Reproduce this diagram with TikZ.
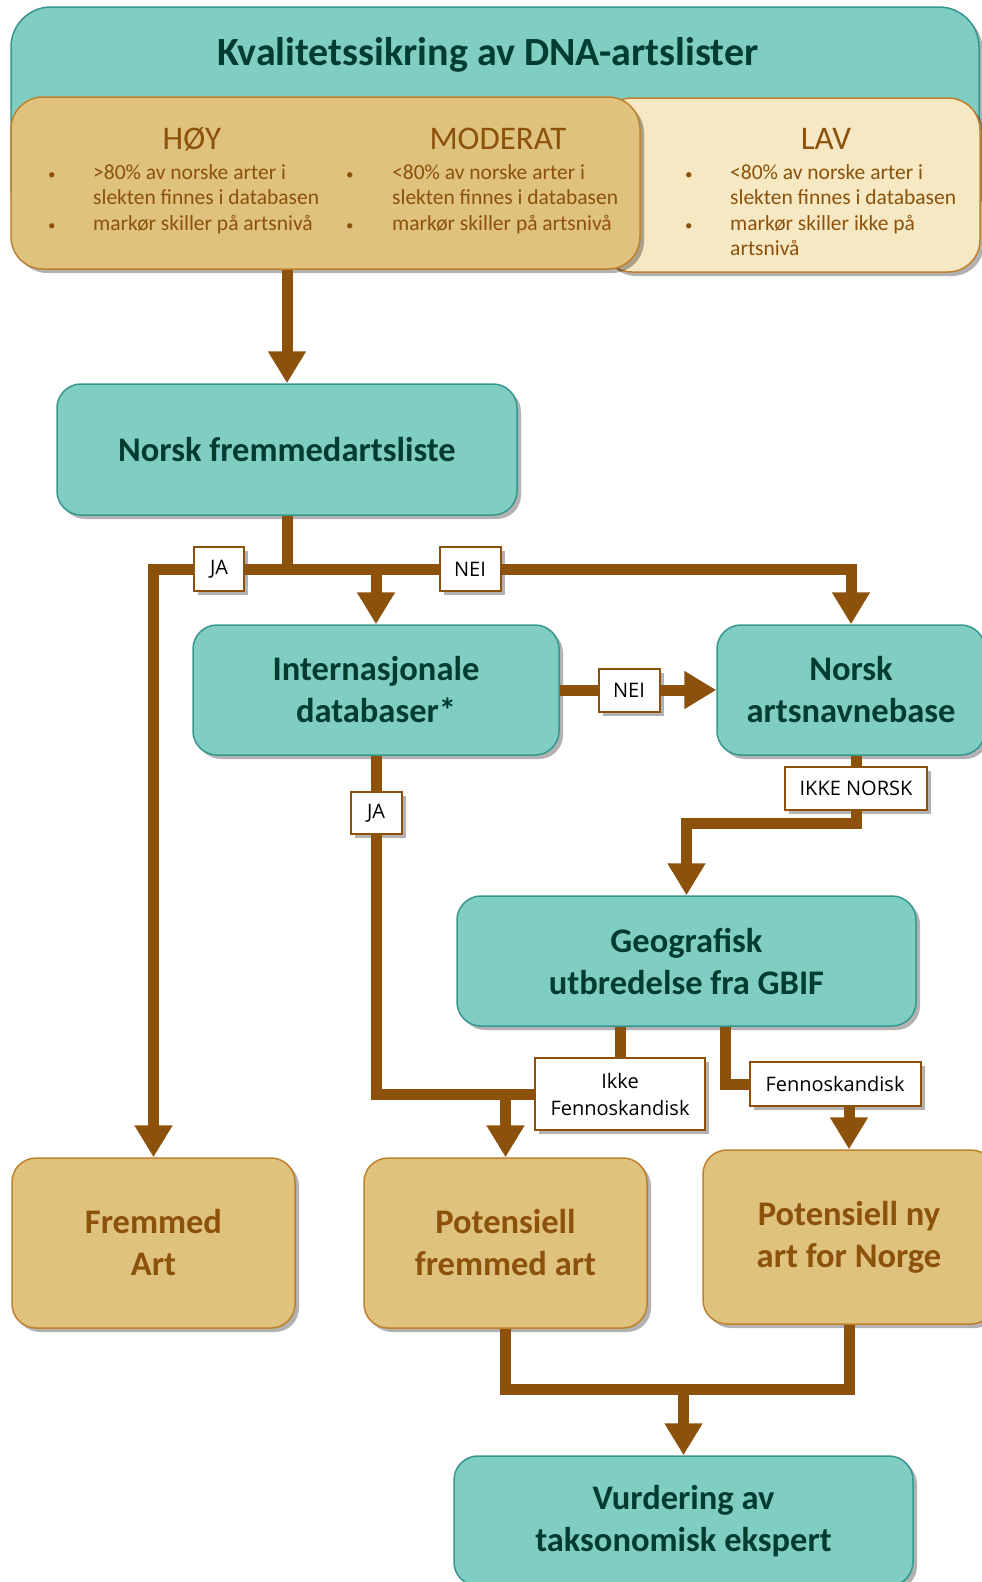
\documentclass[tikz,border=0pt]{standalone}
\usepackage{fontspec}
\setmainfont{Carlito}
\newfontfamily\tagfont{Open Sans}
\usetikzlibrary{arrows.meta, shadows}

\definecolor{tealfill}{HTML}{80CDC1}
\definecolor{tealline}{HTML}{35978F}
\definecolor{tealtext}{HTML}{003C30}
\definecolor{tanfill}{HTML}{DFC27D}
\definecolor{tanline}{HTML}{BF812D}
\definecolor{creamfill}{HTML}{F6E8C3}
\definecolor{flowbrown}{HTML}{8C510A}

\newcommand{\bulletmark}{{\fontsize{15}{15}\selectfont\textbullet}}

\begin{document}
\begin{tikzpicture}[
    x=1pt, y=-1pt,
    softshadow/.style={drop shadow={shadow xshift=4pt, shadow yshift=-4pt, opacity=0.3, fill=black}},
    tealbox/.style={rectangle, draw=tealline, line width=1.5pt, fill=tealfill, rounded corners=24pt, inner sep=0pt, align=center, text=tealtext, font=\fontsize{34.5}{42}\selectfont\bfseries, softshadow},
    tanbox/.style={tealbox, draw=tanline, fill=tanfill, text=flowbrown},
    level/.style={inner sep=0pt, font=\fontsize{33}{38}\selectfont, text=flowbrown},
    bullets/.style={anchor=north west, inner sep=0pt, font=\fontsize{21.5}{25.5}\selectfont, text=flowbrown},
    tag/.style={rectangle, draw=flowbrown, line width=2pt, fill=white, inner sep=0pt, align=center, font=\tagfont\fontsize{20}{27}\selectfont, softshadow},
    pipe/.style={draw=flowbrown, line width=11pt},
    flow/.style={pipe, -{Triangle[width=36pt, length=32pt]}}
]
    \useasboundingbox (0,0) rectangle (982,1582);
    \clip (0,0) rectangle (982,1582);

    % Header
    \node[tealbox, rounded corners=40pt, minimum width=968, minimum height=220] (banner) at (495,117) {};
    \node[inner sep=0pt, text=tealtext, font=\fontsize{40}{46}\selectfont\bfseries] (title) at (488,55) {Kvalitetssikring av DNA-artslister};
    \node[tanbox, draw=tanline, fill=creamfill, rounded corners=32pt, minimum width=380, minimum height=174] (lavbox) at (790,185) {};
    \node[tanbox, rounded corners=32pt, minimum width=629, minimum height=172] (hoybox) at (325.5,183) {};

    \node[level] (hoy) at (192,139) {HØY};
    \node[level] (moderat) at (498,139) {MODERAT};
    \node[level] (lav) at (826,139) {LAV};

    \node[bullets] (hoylist) at (48,161) {\begin{tabular}{@{}p{45pt}@{}l@{}}
        \bulletmark & >80\% av norske arter i\\
                    & slekten finnes i databasen\\
        \bulletmark & markør skiller på artsnivå
    \end{tabular}};
    \node[bullets] (moderatlist) at (346,161) {\begin{tabular}{@{}p{46pt}@{}l@{}}
        \bulletmark & <80\% av norske arter i\\
                    & slekten finnes i databasen\\
        \bulletmark & markør skiller på artsnivå
    \end{tabular}};
    \node[bullets] (lavlist) at (685,161) {\begin{tabular}{@{}p{45pt}@{}l@{}}
        \bulletmark & <80\% av norske arter i\\
                    & slekten finnes i databasen\\
        \bulletmark & markør skiller ikke på\\
                    & artsnivå
    \end{tabular}};

    % Nodes
    \node[tealbox, minimum width=460, minimum height=131] (fremmedliste) at (287,449.5) {Norsk fremmedartsliste};
    \node[tealbox, minimum width=366, minimum height=130] (intl) at (376,690) {Internasjonale\\databaser*};
    \node[tealbox, minimum width=268, minimum height=130] (artsnavn) at (851,690) {Norsk\\artsnavnebase};
    \node[tealbox, minimum width=459, minimum height=130] (geo) at (686.5,961) {Geografisk\\utbredelse fra GBIF};
    \node[tanbox, minimum width=283, minimum height=170] (fremmed) at (153.5,1243) {Fremmed\\Art};
    \node[tanbox, minimum width=283, minimum height=170] (potfremmed) at (505.5,1243) {Potensiell\\fremmed art};
    \node[tanbox, minimum width=292, minimum height=174] (potny) at (849,1237) {Potensiell ny\\art for Norge};
    \node[tealbox, minimum width=459, minimum height=130] (vurdering) at (683.5,1521) {Vurdering av\\taksonomisk ekspert};

    % Tags
    \node[tag, minimum width=50, minimum height=44] (ja1) at (219,569) {JA};
    \node[tag, minimum width=61, minimum height=44] (nei1) at (470,569) {NEI};
    \node[tag, minimum width=61, minimum height=43] (nei2) at (629,690) {NEI};
    \node[tag, minimum width=51, minimum height=42] (ja2) at (376,813) {JA};
    \node[tag, minimum width=142, minimum height=43] (ikkenorsk) at (856,788) {IKKE NORSK};
    \node[tag, minimum width=170, minimum height=72] (ikkefenno) at (620,1094) {Ikke\\Fennoskandisk};
    \node[tag, minimum width=171, minimum height=44] (fenno) at (835,1084) {Fennoskandisk};

    \coordinate (split) at (fremmedliste.south |- nei1);
    \coordinate (merge) at (vurdering.north |- 0,1389);

    % Arrows
    \draw[flow] (fremmedliste.north |- hoybox.south) -- (fremmedliste.north);
    \draw[pipe] (fremmedliste.south) |- (ja1.east);
    \draw[flow] (ja1.west) -| (fremmed.north);
    \draw[pipe] (split) -- (nei1.west);
    \draw[flow] (nei1.east) -| (artsnavn.north);
    \draw[flow] (intl.north |- split) -- (intl.north);
    \draw[pipe] (intl.east) -- (nei2.west);
    \draw[flow] (nei2.east) -- (artsnavn.west);
    \draw[pipe] (intl.south) -- (ja2.north);
    \draw[pipe] (ja2.south) |- (ikkefenno.west);
    \draw[flow] (potfremmed.north |- ikkefenno.west) -- (potfremmed.north);
    \draw[pipe] (ikkenorsk.north |- artsnavn.south) -- (ikkenorsk.north);
    \draw[flow] (ikkenorsk.south) -- ++(0,13) -| (geo.north);
    \draw[pipe] (ikkefenno.north |- geo.south) -- (ikkefenno.north);
    \draw[pipe] ([xshift=38.5pt]geo.south) |- (fenno.west);
    \draw[flow] (fenno.south -| potny.north) -- (potny.north);
    \draw[pipe] (potfremmed.south) |- (merge) -| (potny.south);
    \draw[flow] (merge) -- (vurdering.north);
\end{tikzpicture}
\end{document}
